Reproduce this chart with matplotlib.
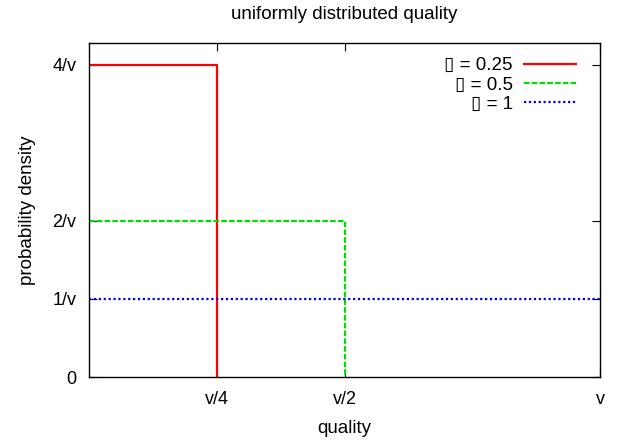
import numpy as np
import matplotlib
matplotlib.use('Agg')
import matplotlib.pyplot as plt

plt.rcParams['font.family'] = ['Liberation Sans', 'DejaVu Sans']

# step densities: quality fraction of v vs density in units of 1/v
x_red = [0, 0.25, 0.25]
y_red = [4, 4, 0]
x_green = [0, 0.5, 0.5]
y_green = [2, 2, 0]
x_blue = [0, 1]
y_blue = [1, 1]
labels = ['\u25af = 0.25', '\u25af = 0.5', '\u25af = 1']

xticks = [0.25, 0.5, 1]
xticklabels = ['v/4', 'v/2', 'v']
yticks = [0, 1, 2, 4]
yticklabels = ['0', '1/v', '2/v', '4/v']

fig = plt.figure(figsize=(6.21, 4.41), dpi=100)
ax = fig.add_axes([89/621, 64/441, 511/621, 334/441])

ax.plot(x_red, y_red, color='#ff0000', lw=1.6, ls='-', label=labels[0])
ax.plot(x_green, y_green, color='#00dd00', lw=1.6, ls=(0, (2.5, 1)), label=labels[1])
ax.plot(x_blue, y_blue, color='#0000ee', lw=1.6, ls=(0, (1, 1.2)), label=labels[2])

ax.set_xlim(0, 1)
ax.set_ylim(0, 4.28)
ax.set_xticks(xticks)
ax.set_xticklabels(xticklabels)
ax.set_yticks(yticks)
ax.set_yticklabels(yticklabels)
ax.tick_params(direction='in', length=6, labelsize=13, top=True, right=True, pad=10)
ax.tick_params(axis='y', pad=9)
ax.set_xlabel('quality', fontsize=13.5, labelpad=9)
ax.set_ylabel('probability density', fontsize=13.5, labelpad=12)
ax.set_title('uniformly distributed quality', fontsize=13.5, pad=17)
for s in ax.spines.values():
    s.set_linewidth(1.0)

ax.legend(loc='upper right', frameon=False, markerfirst=False, fontsize=13.5,
          handlelength=2.8, handletextpad=0.6, labelspacing=0.12,
          borderaxespad=0.0, borderpad=0.3, bbox_to_anchor=(0.965, 0.975))

fig.savefig('out.png', dpi=100)
